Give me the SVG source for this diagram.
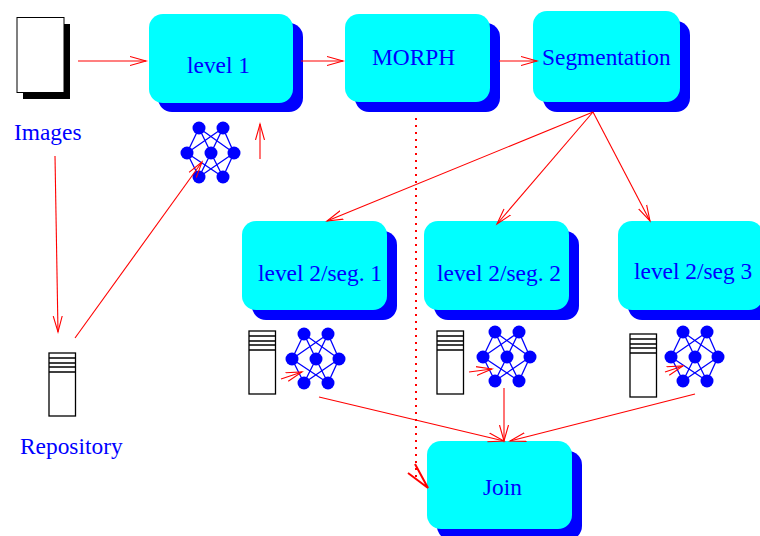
<svg xmlns="http://www.w3.org/2000/svg" width="760" height="536" viewBox="0 0 760 536">
<style>
text{font-family:"Liberation Serif","Times New Roman",serif;font-size:23.4px;fill:#0000ff}
.box{fill:#00ffff}
.sh{fill:#0000ff}
.c{fill:none;stroke:#ff0000;stroke-width:1.1}
.d{fill:none;stroke:#ff0000;stroke-width:2}
.srv{fill:#fff;stroke:#000;stroke-width:1.3}
.nl{stroke:#0000ff;stroke-width:1.3;fill:none}
</style>
<defs>
<marker id="a" markerUnits="userSpaceOnUse" markerWidth="20" markerHeight="14" refX="16" refY="7" orient="auto"><path d="M0 2.500L16 7L0 11.500" fill="none" stroke="#ff0000" stroke-width="1.1"/></marker>
<g id="net">
<path class="nl" d="M-12-25L-24 0M-12-25L0 0M-12-25L23 0M12-25L-24 0M12-25L0 0M12-25L23 0M-24 0L-12 24M-24 0L12 24M0 0L-12 24M0 0L12 24M23 0L-12 24M23 0L12 24"/>
<g fill="#0000ff"><circle cx="-12" cy="-25" r="6.500"/><circle cx="12" cy="-25" r="6.500"/><circle cx="-24" cy="0" r="6.500"/><circle cx="0" cy="0" r="6.500"/><circle cx="23" cy="0" r="6.500"/><circle cx="-12" cy="24" r="6.500"/><circle cx="12" cy="24" r="6.500"/></g>
</g>
<g id="server">
<rect class="srv" width="26.500" height="63" x="0" y="0"/>
<path class="srv" d="M0 5H26.500M0 10H26.500M0 14H26.500M0 19H26.500"/>
</g>
</defs>
<g id="images"><rect x="23" y="24" width="47" height="75" fill="#000"/><rect x="17" y="17.500" width="47" height="75" fill="#fff" stroke="#000" stroke-width="1"/><text x="14" y="140">Images</text></g>
<g id="repository"><use href="#server" x="49" y="353"/><text x="20" y="454">Repository</text></g>
<g id="level1"><rect class="sh" x="158" y="23" width="145" height="89" rx="14"/><rect class="box" x="149" y="14" width="144" height="89" rx="14"/><text x="187" y="73">level 1</text></g>
<g id="net1"><use href="#net" x="211" y="153"/></g>
<g id="morph"><rect class="sh" x="355" y="23" width="145" height="89" rx="14"/><rect class="box" x="345" y="14" width="145" height="88" rx="14"/><text x="372" y="65">MORPH</text></g>
<g id="segmentation"><rect class="sh" x="543" y="21" width="147" height="91" rx="14"/><rect class="box" x="533" y="11" width="147" height="91" rx="14"/><text x="542" y="65">Segmentation</text></g>
<g id="seg1"><rect class="sh" x="252" y="231" width="145" height="89" rx="14"/><rect class="box" x="242" y="221" width="145" height="89" rx="14"/><text x="258" y="281">level 2/seg. 1</text></g>
<g id="seg2"><rect class="sh" x="434" y="231" width="145" height="89" rx="14"/><rect class="box" x="424" y="221" width="145" height="89" rx="14"/><text x="437" y="281">level 2/seg. 2</text></g>
<g id="seg3"><rect class="sh" x="628" y="231" width="145" height="89" rx="14"/><rect class="box" x="618" y="221" width="145" height="89" rx="14"/><text x="634" y="279">level 2/seg 3</text></g>
<g id="res1"><use href="#server" x="249" y="331"/><use href="#net" x="316" y="359"/></g>
<g id="res2"><use href="#server" x="437" y="331"/><use href="#net" x="507" y="357"/></g>
<g id="res3"><use href="#server" x="630" y="334"/><use href="#net" x="695" y="357"/></g>
<g id="join"><rect class="sh" x="437" y="451" width="145" height="89" rx="14"/><rect class="box" x="427" y="441" width="145" height="88" rx="14"/><text x="483" y="495">Join</text></g>
<g id="connectors">
<line class="c" x1="78" y1="61" x2="146" y2="61" marker-end="url(#a)"/>
<line class="c" x1="301" y1="61" x2="343" y2="61" marker-end="url(#a)"/>
<line class="c" x1="499" y1="61" x2="537" y2="61" marker-end="url(#a)"/>
<line class="c" x1="260" y1="159" x2="260" y2="124" marker-end="url(#a)"/>
<line class="c" x1="55" y1="156" x2="58" y2="332" marker-end="url(#a)"/>
<line class="c" x1="75" y1="338" x2="202" y2="162" marker-end="url(#a)"/>
<line class="c" x1="593" y1="112" x2="327" y2="221" marker-end="url(#a)"/>
<line class="c" x1="593" y1="112" x2="497" y2="224" marker-end="url(#a)"/>
<line class="c" x1="593" y1="112" x2="650" y2="221" marker-end="url(#a)"/>
<line class="c" x1="281" y1="379" x2="302" y2="372" marker-end="url(#a)"/>
<line class="c" x1="469" y1="372" x2="492" y2="369" marker-end="url(#a)"/>
<line class="c" x1="665" y1="372" x2="683" y2="366" marker-end="url(#a)"/>
<line class="c" x1="319" y1="397" x2="504" y2="441" marker-end="url(#a)"/>
<line class="c" x1="504" y1="388" x2="504" y2="441" marker-end="url(#a)"/>
<line class="c" x1="695" y1="394" x2="510" y2="441" marker-end="url(#a)"/>
<line class="d" x1="416" y1="118" x2="416" y2="478" stroke-dasharray="2 5"/>
<path class="d" d="M408 473L428 488L415 464"/>
</g>
</svg>
